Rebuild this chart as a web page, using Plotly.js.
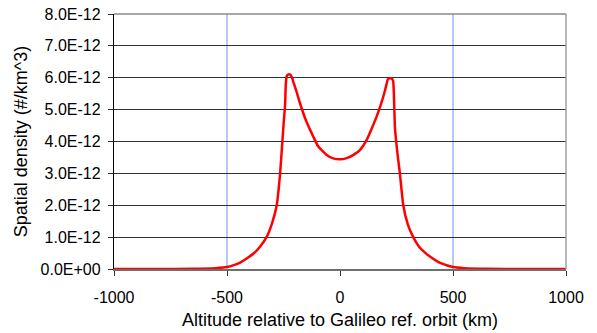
<!DOCTYPE html>
<html>
<head>
<meta charset="utf-8">
<script src="https://cdn.plot.ly/plotly-3.0.1.min.js"></script>
<style>html,body{margin:0;padding:0;background:#fff;}#chart{width:597px;height:333px;}</style>
</head>
<body>
<div id="chart"></div>
<script>
// Altitude relative to Galileo reference orbit (km)
var altitude = [-1000, -800, -650, -550, -500, -470, -440, -413, -380, -354, -325, -300, -280, -265, -255, -248, -243, -240, -236, -230, -220, -212, -207, -192, -177, -150, -118, -96, -59, -30, 0, 30, 60, 88, 118, 140, 162, 185, 199, 206, 212, 220, 228, 235, 239, 243, 250, 258, 265, 280, 300, 324, 350, 375, 398, 430, 455, 475, 500, 550, 650, 800, 1000];
// Spatial density in units of 1E-12 #/km^3
var density = [0, 0, 0.005, 0.025, 0.06, 0.12, 0.21, 0.33, 0.5, 0.7, 1.0, 1.45, 2.0, 3.0, 4.0, 4.7, 5.14, 5.77, 6.05, 6.1, 6.1, 6.0, 5.88, 5.56, 5.2, 4.65, 4.15, 3.84, 3.58, 3.47, 3.44, 3.48, 3.58, 3.73, 4.05, 4.4, 4.78, 5.25, 5.6, 5.8, 5.96, 5.98, 5.98, 5.9, 5.35, 4.46, 3.9, 3.4, 3.0, 2.0, 1.4, 1.0, 0.7, 0.52, 0.39, 0.24, 0.16, 0.11, 0.06, 0.025, 0.005, 0, 0];
var yTickVals = [0, 1, 2, 3, 4, 5, 6, 7, 8];
var yTickText = ['0.0E+00', '1.0E-12', '2.0E-12', '3.0E-12', '4.0E-12', '5.0E-12', '6.0E-12', '7.0E-12', '8.0E-12'];
var xTickVals = [-1000, -500, 0, 500, 1000];
var refLines = [-500, 500];

var shapes = refLines.map(function (v) {
  return {type: 'line', xref: 'x', yref: 'paper', x0: v, x1: v, y0: 0, y1: 1,
          line: {color: '#8aa0f5', width: 1.2}, layer: 'below'};
});
shapes.push({type: 'line', xref: 'paper', yref: 'paper', x0: 1, x1: 1, y0: 0, y1: 1,
             line: {color: '#a0a0a0', width: 1.5}});
shapes.push({type: 'line', xref: 'paper', yref: 'paper', x0: 0, x1: 1, y0: 1, y1: 1,
             line: {color: '#8a8a8a', width: 1.5}});

var trace = {
  x: altitude, y: density, type: 'scatter', mode: 'lines',
  line: {color: '#ff0000', width: 2.5, shape: 'spline', smoothing: 0.5},
  hoverinfo: 'skip'
};

var layout = {
  width: 597, height: 333,
  margin: {l: 114, r: 31, t: 14, b: 64},
  paper_bgcolor: '#ffffff', plot_bgcolor: '#ffffff',
  showlegend: false,
  font: {family: 'Liberation Sans, Arial, sans-serif', size: 16, color: '#000'},
  xaxis: {
    range: [-1000, 1000], tickvals: xTickVals, ticktext: xTickVals.map(String),
    showgrid: false, zeroline: false, showline: true, linecolor: '#6e6e6e', linewidth: 1.5,
    ticks: 'outside', ticklen: 5, tickcolor: '#333', tickfont: {size: 16},
    ticklabelstandoff: 8,
    title: {text: 'Altitude relative to Galileo ref. orbit (km)', font: {size: 18}, standoff: 8}
  },
  yaxis: {
    range: [0, 8], tickvals: yTickVals, ticktext: yTickText,
    showgrid: true, gridcolor: '#303030', gridwidth: 1,
    zeroline: false, showline: true, linecolor: '#000', linewidth: 1.2,
    ticks: 'outside', ticklen: 5, tickcolor: '#333', tickfont: {size: 16},
    ticklabelstandoff: 4,
    title: {text: 'Spatial density (#/km^3)', font: {size: 18}, standoff: 8}
  },
  shapes: shapes
};

Plotly.newPlot('chart', [trace], layout, {displayModeBar: false, staticPlot: true});
</script>
</body>
</html>
